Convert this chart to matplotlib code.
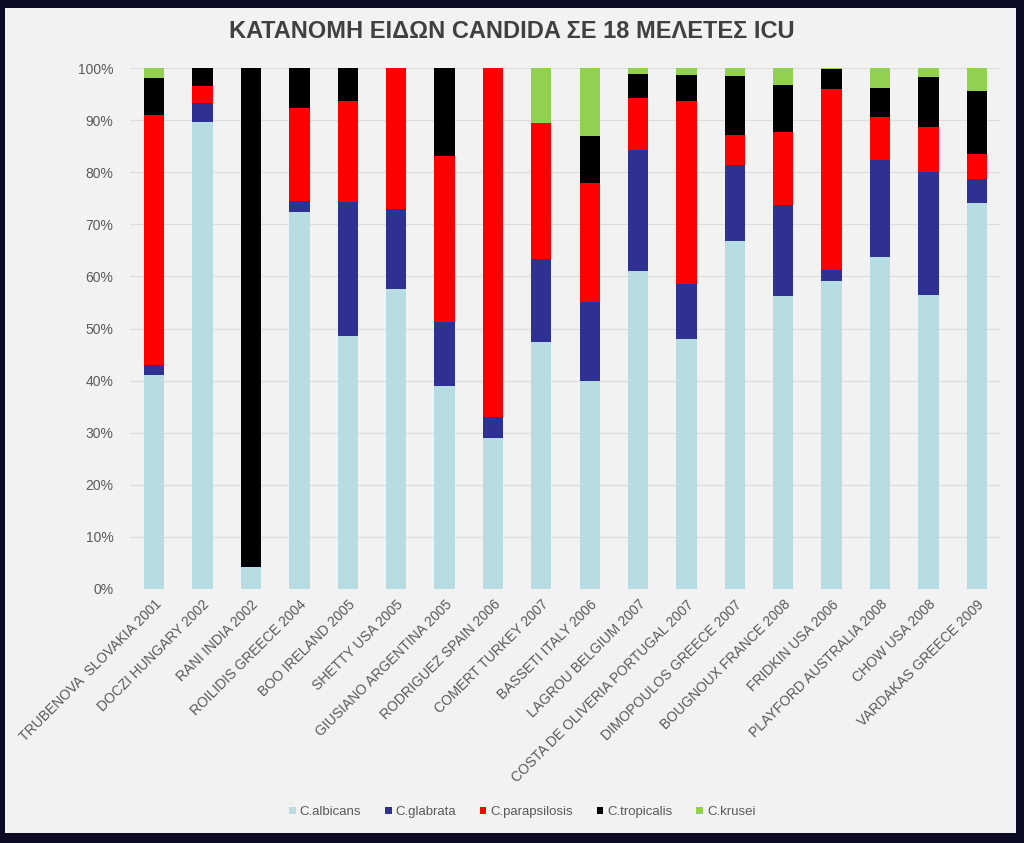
import matplotlib
matplotlib.use('Agg')
import matplotlib.pyplot as plt
import numpy as np
from matplotlib.patches import Rectangle

plt.rcParams['font.family'] = ['Liberation Sans', 'DejaVu Sans']

studies = ['TRUBENOVA  SLOVAKIA 2001', 'DOCZI HUNGARY 2002', 'RANI INDIA 2002',
           'ROILIDIS GREECE 2004', 'BOO IRELAND 2005', 'SHETTY USA 2005',
           'GIUSIANO ARGENTINA 2005', 'RODRIGUEZ SPAIN 2006', 'COMERT TURKEY 2007',
           'BASSETI ITALY 2006', 'LAGROU BELGIUM 2007', 'COSTA DE OLIVERIA PORTUGAL 2007',
           'DIMOPOULOS GREECE 2007', 'BOUGNOUX FRANCE 2008', 'FRIDKIN USA 2006',
           'PLAYFORD AUSTRALIA 2008', 'CHOW USA 2008', 'VARDAKAS GREECE 2009']

# percentages per species
albicans     = [41.0, 89.7, 4.2, 72.3, 48.5, 57.6, 39.0, 29.0, 47.5, 40.0, 61.0, 48.0, 66.8, 56.2, 59.2, 63.8, 56.5, 74.0]
glabrata     = [2.0, 3.6, 0.0, 2.2, 25.7, 15.3, 12.3, 4.0, 15.8, 15.0, 23.2, 10.5, 14.5, 17.5, 2.0, 18.6, 23.5, 4.7]
parapsilosis = [48.0, 3.2, 0.0, 17.8, 19.5, 27.1, 31.8, 67.0, 26.1, 23.0, 10.0, 35.2, 5.8, 14.0, 34.8, 8.1, 8.7, 4.8]
tropicalis   = [7.0, 3.5, 95.8, 7.7, 6.3, 0.0, 16.9, 0.0, 0.0, 9.0, 4.6, 4.9, 11.3, 9.0, 3.9, 5.7, 9.5, 12.0]
krusei       = [2.0, 0.0, 0.0, 0.0, 0.0, 0.0, 0.0, 0.0, 10.6, 13.0, 1.2, 1.4, 1.6, 3.3, 0.1, 3.8, 1.8, 4.5]

species = ['C.albicans', 'C.glabrata', 'C.parapsilosis', 'C.tropicalis', 'C.krusei']
colors = ['#b7dde3', '#2e3192', '#ff0000', '#000000', '#92d050']

fig = plt.figure(figsize=(10.24, 8.43), dpi=100)
fig.patch.set_facecolor('#0b0b26')
# light panel inside the dark frame
fig.patches.append(Rectangle((5 / 1024, 10 / 843), 1011 / 1024, 825 / 843,
                             transform=fig.transFigure, facecolor='#f2f2f2',
                             edgecolor='none', zorder=-10))

ax = fig.add_axes([130 / 1024, 1 - 589 / 843, 871 / 1024, 521 / 843])
ax.set_facecolor('#f2f2f2')

x = np.arange(len(studies))
bottom = np.zeros(len(studies))
for name, vals, c in zip(species, [albicans, glabrata, parapsilosis, tropicalis, krusei], colors):
    vals = np.array(vals)
    ax.bar(x, vals, 0.42, bottom=bottom, color=c, label=name, zorder=3)
    bottom += vals

ax.set_xlim(-0.5, len(studies) - 0.5)
ax.set_ylim(0, 100)
ax.set_yticks(range(0, 101, 10))
ax.set_yticklabels([f'{v}%' for v in range(0, 101, 10)], color='#595959', fontsize=10)
ax.set_xticks(x)
ax.set_xticklabels(studies, rotation=45, ha='right', rotation_mode='anchor',
                   color='#595959', fontsize=10)
ax.tick_params(axis='y', length=0, pad=12)
ax.tick_params(axis='x', length=0, pad=6)
ax.grid(axis='y', color='#dcdcdc', linewidth=0.8, zorder=0)
for s in ax.spines.values():
    s.set_visible(False)

fig.text(0.5, 1 - 32 / 843, 'ΚΑΤΑΝΟΜΗ ΕΙΔΩΝ CANDIDA ΣΕ 18 ΜΕΛΕΤΕΣ ICU',
         ha='center', va='center', fontsize=17, fontweight='bold', color='#404040')

fig.legend(loc='center', bbox_to_anchor=(0.51, 1 - 812 / 843), ncol=5, frameon=False,
           fontsize=9.5, handlelength=0.5, handleheight=0.5, handletextpad=0.3,
           columnspacing=1.8, labelcolor='#595959')

fig.savefig('out.png', dpi=100, facecolor=fig.get_facecolor())
